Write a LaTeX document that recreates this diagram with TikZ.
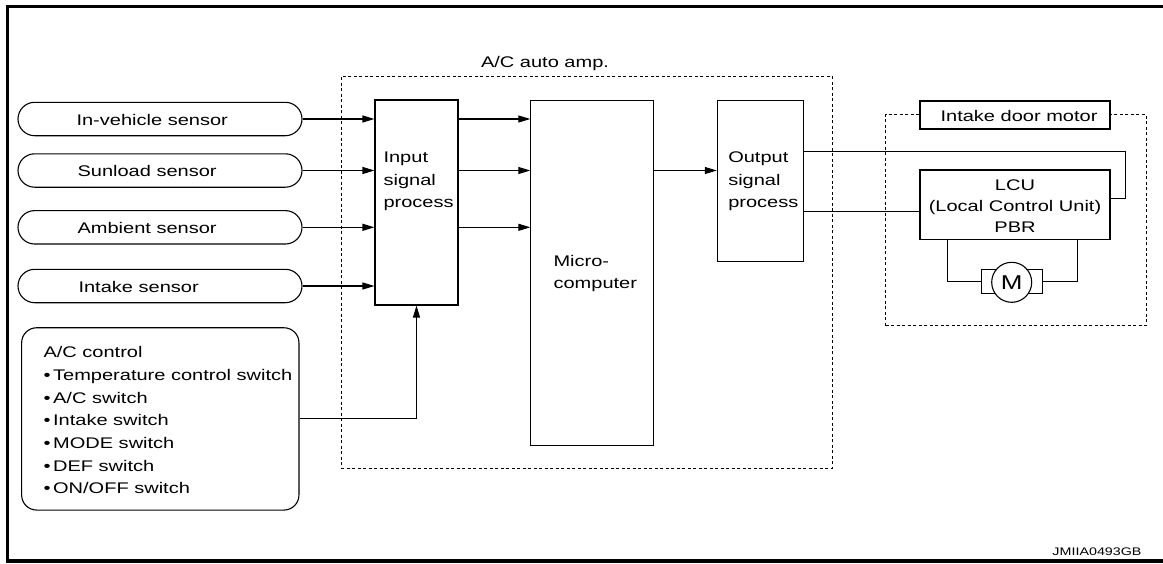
\documentclass[tikz,border=0pt]{standalone}
\usepackage{fontspec}
\setmainfont{Liberation Sans}[FakeStretch=1.3]
\usetikzlibrary{arrows.meta}
\begin{document}
\begin{tikzpicture}[x=1pt,y=-1pt,
  font=\fontsize{15.4}{22.7}\selectfont,
  line width=1.1pt,
  sensor/.style={draw, rounded corners=16.7pt, minimum width=284pt, minimum height=33.4pt, inner sep=0pt},
  blk/.style={draw, inner sep=0pt},
  txt/.style={inner sep=0pt, align=left},
  arr/.style={-{Triangle[length=12pt,width=7pt]}},
  dotbox/.style={draw, dash pattern=on 3pt off 2.5pt, line width=1pt}]
\useasboundingbox (0,0) rectangle (1163,563);
% outer frame
\draw[line width=3.3pt] (1180,6.7) -- (7.5,6.7) -- (7.5,561) -- (1180,561);
% dotted A/C amp box
\node[dotbox, minimum width=491pt, minimum height=392pt, inner sep=0pt] (amp) at (586.5,272) {};
\node[inner sep=0pt, anchor=base] (amplbl) at (545,67) {A/C auto amp.};
% sensors
\node[sensor] (s1) at (160,119) {};
\node[sensor] (s2) at (160,170.5) {};
\node[sensor] (s3) at (160,227.3) {};
\node[sensor] (s4) at (160,286) {};
\node[txt, anchor=west] (t1) at (76,119.5) {In-vehicle sensor};
\node[txt, anchor=west] (t2) at (77,171) {Sunload sensor};
\node[txt, anchor=west] (t3) at (77,228) {Ambient sensor};
\node[txt, anchor=west] (t4) at (78,287) {Intake sensor};
% blocks
\node[blk, minimum width=83pt, minimum height=205pt] (in) at (416.5,202.5) {};
\node[txt, anchor=north west] (intxt) at (383,151.3) {Input\\signal\\process};
\node[blk, minimum width=122.3pt, minimum height=345pt] (mc) at (592,273.2) {};
\node[txt, anchor=north west] (mctxt) at (553,254.3) {Micro-\\computer};
\node[blk, minimum width=86pt, minimum height=161pt] (out) at (760.3,181.2) {};
\node[txt, anchor=north west] (outtxt) at (727.7,151) {Output\\signal\\process};
% A/C control
\node[draw, rounded corners=15pt, minimum width=277.3pt, minimum height=182.3pt, inner sep=0pt] (ac) at (160.3,418.9) {};
\node[txt, anchor=north west] (actxt) at (43,346) {A/C control\\
\textbullet\,Temperature control switch\\
\textbullet\,A/C switch\\
\textbullet\,Intake switch\\
\textbullet\,MODE switch\\
\textbullet\,DEF switch\\
\textbullet\,ON/OFF switch};
% arrows
\foreach \s in {s1,s2,s3,s4} \draw[arr] (\s.east) -- (\s.east -| in.west);
\foreach \s in {s1,s2,s3} \draw[arr] (in.east |- \s.east) -- (mc.west |- \s.east);
\draw[arr] (mc.east |- s2.east) -- (out.west |- s2.east);
\draw[arr] (ac.east) -| (in.south);
% intake door motor
\node[dotbox, minimum width=260.3pt, minimum height=211.4pt, inner sep=0pt] (idm) at (1015.9,220) {};
\node[blk, fill=white, minimum width=190pt, minimum height=28pt] (idmlbl) at (1015,115) {};
\node[txt] (idmtxt) at (1019,115.5) {Intake door motor};
\node[blk, minimum width=190pt, minimum height=69.3pt, align=center] (lcu) at (1015,204.65) {};
\node[txt, anchor=north, align=center] (lcutxt) at (1015,179.3) {LCU\\[-1.7pt](Local Control Unit)\\[-1.7pt]PBR};
\node[blk, minimum width=61pt, minimum height=24.3pt] (mrect) at (1012.2,281.2) {};
\node[draw, fill=white, circle, minimum size=40pt, inner sep=0pt, font=\fontsize{20}{22}\selectfont] (mot) at (1011.7,282.3) {M};
% wires
\draw ([yshift=-51pt]out.north east) -| ([xshift=15pt,yshift=6.3pt]lcu.east) -- ([yshift=6.3pt]lcu.east);
\draw ([yshift=-30.4pt]out.east) -- ([yshift=-30.4pt]out.east -| lcu.west);
\draw ([xshift=28.3pt]lcu.south west) |- (mrect.west);
\draw ([xshift=-33.3pt]lcu.south east) |- (mrect.east);
% code
\node[inner sep=0pt, font=\fontsize{11}{13}\selectfont] (code) at (1097,551.7) {JMIIA0493GB};
\end{tikzpicture}
\end{document}
